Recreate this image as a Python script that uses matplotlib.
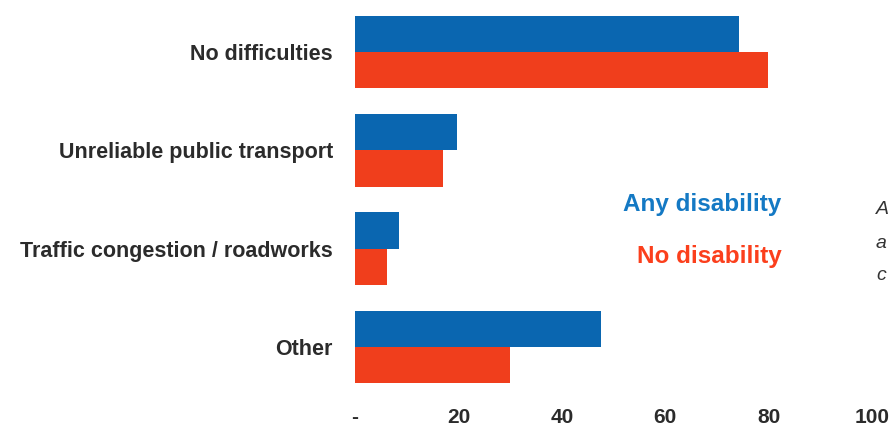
import matplotlib.pyplot as plt
import numpy as np

# ---------------------------------------------------------
# DATA
# ---------------------------------------------------------

categories = [
    "No difficulties",
    "Unreliable public transport",
    "Traffic congestion / roadworks",
    "Other",
]

any_disability = [74.3, 19.8, 8.6, 47.6]
no_disability = [79.9, 17.1, 6.1, 30.0]

x_ticks = [0, 20, 40, 60, 80, 100]
x_tick_labels = ["-", "20", "40", "60", "80", "100"]

# ---------------------------------------------------------
# STYLE
# ---------------------------------------------------------

plt.rcParams["font.family"] = ["Liberation Sans", "DejaVu Sans"]

BLUE = "#0a66b0"
RED = "#f03e1c"
BLUE_TEXT = "#1479c4"
RED_TEXT = "#fb3f1c"
TEXT = "#2b2b2b"

# ---------------------------------------------------------
# CHART
# ---------------------------------------------------------

fig = plt.figure(figsize=(8.9, 4.3), dpi=100)
ax = fig.add_axes([355 / 890, 30 / 430, 517 / 890, 400 / 430])

y = np.arange(len(categories))
h = 0.37

ax.barh(y - h / 2, any_disability, height=h, color=BLUE)
ax.barh(y + h / 2, no_disability, height=h, color=RED)

ax.set_xlim(0, 100)
ax.set_ylim(3.54, -0.53)

ax.set_yticks(y)
ax.set_yticklabels(categories, fontsize=15.5, fontweight="bold", color=TEXT)
ax.set_xticks(x_ticks)
ax.set_xticklabels(x_tick_labels, fontsize=15, fontweight="bold", color=TEXT)

ax.tick_params(axis="y", length=0, pad=16)
ax.tick_params(axis="x", length=0, pad=6)

for spine in ax.spines.values():
    spine.set_visible(False)

# series names written in their own colours
fig.text(781 / 890, 1 - 205 / 430, "Any disability", color=BLUE_TEXT,
         fontsize=17.5, fontweight="bold", ha="right", va="center")
fig.text(782 / 890, 1 - 256 / 430, "No disability", color=RED_TEXT,
         fontsize=17.5, fontweight="bold", ha="right", va="center")

# side note at the right edge
for line, ypx in zip(["A", "a", "c"], [210, 243, 275]):
    fig.text(876 / 890, 1 - ypx / 430, line, color="#333333",
             fontsize=14, style="italic", ha="left", va="center")

fig.savefig("out.png", dpi=100)
